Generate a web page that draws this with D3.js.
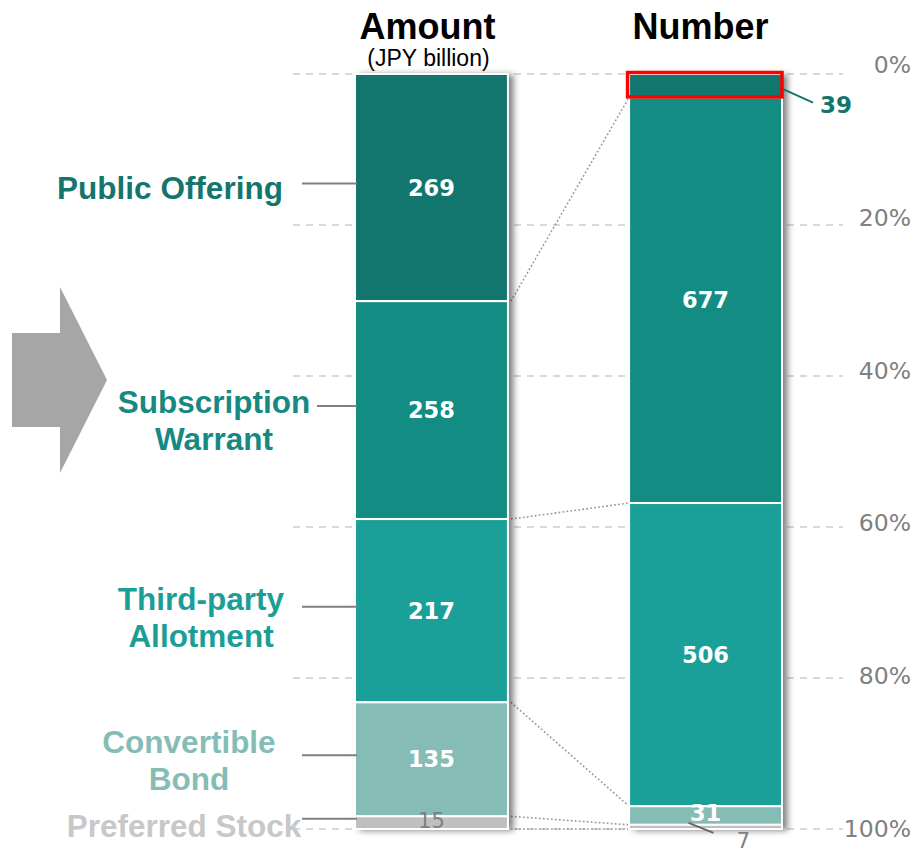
<!DOCTYPE html>
<meta charset="utf-8">
<head>
  <title>Amount vs Number</title>
  <script src="https://cdn.jsdelivr.net/npm/d3@7"></script>
  <style>
    body { margin: 0; background: #fff; }
    svg { display: block; }
    .cat { font-family: "Liberation Sans", Arial, sans-serif; font-weight: bold; font-size: 31.5px; text-anchor: middle; }
    .title { font-family: "Liberation Sans", Arial, sans-serif; font-weight: bold; font-size: 36px; text-anchor: middle; }
    .val { font-family: "DejaVu Sans", Verdana, sans-serif; font-weight: bold; font-size: 22.5px; text-anchor: middle; fill: #fff; }
    .pct { font-family: "DejaVu Sans", Verdana, sans-serif; font-size: 23.5px; fill: #808080; text-anchor: end; }
    .grid { stroke: #d9d9d9; stroke-width: 2; stroke-dasharray: 7,6; }
    .conn { stroke: #999; stroke-width: 1.6; stroke-dasharray: 1.8,2.2; }
    .lead { stroke: #808080; stroke-width: 2; }
  </style>
</head>
<body>
  <svg width="915" height="853"></svg>
  <script>
    // data
    const categories = ["Public Offering", "Subscription Warrant", "Third-party Allotment", "Convertible Bond", "Preferred Stock"];
    const amountValues = [269, 258, 217, 135, 15];   // JPY billion
    const numberValues = [39, 677, 506, 31, 7];
    const columns = ["Amount", "Number"];
    const pctTicks = [0, 0.2, 0.4, 0.6, 0.8, 1];

    const colors = ["#12766e", "#138c84", "#1aa098", "#86bcb6", "#bfbfbf"];
    const labelColors = ["#13756d", "#168a82", "#1a9e96", "#86bcb6", "#c8c8c8"];
    // left label layout: centre x, baseline offset from leader line, leader start
    const labelLayout = [
      { x: 170, dy: 15, lx: 302 },
      { x: 214, dy: 7, lx: 317 },
      { x: 201, dy: 3, lx: 302 },
      { x: 189, dy: -2, lx: 302 },
      { x: 184, dy: 18, lx: 302 }
    ];

    const svg = d3.select("svg");

    const x = d3.scaleBand().domain(columns).range([355, 782]).paddingInner(0.442).paddingOuter(0);
    const y = d3.scaleLinear().domain([0, 1]).range([74, 829]);
    const yLab = d3.scaleLinear().domain([0, 1]).range([73, 837]);

    function stackOf(vals) {
      const tot = d3.sum(vals);
      let acc = 0;
      return vals.map(function (v, i) {
        const s = { i: i, v: v, y0: acc / tot };
        acc += v;
        s.y1 = acc / tot;
        return s;
      });
    }
    const stacks = { Amount: stackOf(amountValues), Number: stackOf(numberValues) };

    const defs = svg.append("defs");
    const f = defs.append("filter").attr("id", "shadow").attr("x", "-10%").attr("y", "-5%").attr("width", "130%").attr("height", "110%");
    f.append("feDropShadow").attr("dx", 5).attr("dy", 1).attr("stdDeviation", 3)
      .attr("flood-color", "#000").attr("flood-opacity", 0.5);

    // gridlines
    svg.append("g").selectAll("line").data(pctTicks).enter().append("line")
      .attr("class", "grid")
      .attr("x1", 293).attr("x2", 843)
      .attr("y1", function (d) { return y(d); })
      .attr("y2", function (d) { return y(d); });

    svg.append("g").selectAll("text").data(pctTicks).enter().append("text")
      .attr("class", "pct")
      .attr("x", 911)
      .attr("y", function (d) { return yLab(d); })
      .text(d3.format(".0%"));

    // arrow
    svg.append("polygon")
      .attr("points", "12,333 60,333 60,287 107,380 60,473 60,427 12,427")
      .attr("fill", "#a6a6a6");

    // connectors between bars
    const conn = d3.range(1, categories.length + 1).map(function (k) {
      return { a: stacks.Amount[k - 1].y1, b: stacks.Number[k - 1].y1 };
    });
    svg.append("g").selectAll("line").data(conn).enter().append("line")
      .attr("class", "conn")
      .attr("x1", x("Amount") + x.bandwidth() + 3)
      .attr("x2", x("Number"))
      .attr("y1", function (d) { return y(d.a); })
      .attr("y2", function (d) { return y(d.b); });

    // bars
    columns.forEach(function (col) {
      const g = svg.append("g");
      g.append("rect")
        .attr("x", x(col)).attr("y", y(0))
        .attr("width", x.bandwidth()).attr("height", y(1) - y(0))
        .attr("fill", "#fff").attr("stroke", "#e6e6e6")
        .attr("filter", "url(#shadow)");
      g.selectAll("rect.seg").data(stacks[col]).enter().append("rect")
        .attr("class", "seg")
        .attr("x", x(col)).attr("y", function (d) { return y(d.y0); })
        .attr("width", x.bandwidth())
        .attr("height", function (d) { return y(d.y1) - y(d.y0); })
        .attr("fill", function (d) { return colors[d.i]; })
        .attr("stroke", "#fff").attr("stroke-width", 2);
    });

    // values inside the bars
    const cx = function (col) { return x(col) + x.bandwidth() / 2; };
    const mid = function (d) { return y((d.y0 + d.y1) / 2); };

    svg.append("g").selectAll("text").data(stacks.Amount).enter().append("text")
      .attr("class", "val")
      .attr("x", cx("Amount"))
      .attr("y", function (d) { return d.i === 4 ? mid(d) - 2 : mid(d); })
      .attr("dy", "0.36em")
      .style("font-weight", function (d) { return d.i === 4 ? "normal" : "bold"; })
      .style("font-size", function (d) { return d.i === 4 ? "21px" : null; })
      .style("fill", function (d) { return d.i === 4 ? "#7f7f7f" : null; })
      .text(function (d) { return d.v; });

    const numIn = stacks.Number.filter(function (d) { return d.i > 0 && d.i < 4; });
    svg.append("g").selectAll("text").data(numIn).enter().append("text")
      .attr("class", "val")
      .attr("x", cx("Number"))
      .attr("y", function (d) { return d.i === 3 ? mid(d) - 3 : mid(d); })
      .attr("dy", "0.36em")
      .text(function (d) { return d.v; });

    // 39 outside with leader
    const n0 = stacks.Number[0];
    const nRight = x("Number") + x.bandwidth();
    svg.append("line")
      .attr("x1", nRight).attr("y1", mid(n0) + 3)
      .attr("x2", nRight + 31).attr("y2", mid(n0) + 17)
      .attr("stroke", labelColors[0]).attr("stroke-width", 2);
    svg.append("text")
      .attr("class", "val")
      .attr("x", nRight + 38).attr("y", mid(n0) + 27)
      .style("text-anchor", "start").style("font-size", "23px")
      .style("fill", labelColors[0])
      .text(n0.v);

    // 7 outside with leader
    const n4 = stacks.Number[4];
    svg.append("line")
      .attr("x1", cx("Number") - 17).attr("y1", mid(n4) - 4)
      .attr("x2", cx("Number") + 8).attr("y2", mid(n4) + 6)
      .attr("stroke", "#666").attr("stroke-width", 2);
    svg.append("text")
      .attr("class", "val")
      .attr("x", cx("Number") + 38).attr("y", mid(n4) + 21)
      .style("font-weight", "normal").style("font-size", "21px").style("fill", "#7f7f7f")
      .text(n4.v);

    // red highlight on top segment of Number
    svg.append("rect")
      .attr("x", x("Number") - 1.5).attr("y", y(n0.y0) - 1.5)
      .attr("width", x.bandwidth() + 1.5).attr("height", y(n0.y1) - y(n0.y0) + 1)
      .attr("fill", "none").attr("stroke", "#ff0000").attr("stroke-width", 3.5);

    // left category labels with leader lines
    stacks.Amount.forEach(function (d) {
      const ly = mid(d) - 4;
      svg.append("line").attr("class", "lead")
        .attr("x1", labelLayout[d.i].lx).attr("x2", x("Amount") + 2)
        .attr("y1", ly).attr("y2", ly);
      const words = d.i === 0 || d.i === 4 ? [categories[d.i]] : categories[d.i].split(" ");
      const t = svg.append("text").attr("class", "cat")
        .attr("fill", labelColors[d.i])
        .attr("y", ly + labelLayout[d.i].dy);
      words.forEach(function (w, k) {
        t.append("tspan").attr("x", labelLayout[d.i].x).attr("dy", k === 0 ? 0 : 37).text(w);
      });
    });

    // column titles
    svg.append("text").attr("class", "title").attr("x", cx("Amount") - 4).attr("y", 39).text("Amount");
    svg.append("text").attr("class", "title").attr("x", cx("Number") - 5).attr("y", 39).text("Number");
    svg.append("text")
      .attr("x", cx("Amount") - 3).attr("y", 66)
      .attr("text-anchor", "middle")
      .style("font-family", "'Liberation Sans', Arial, sans-serif").style("font-size", "23px")
      .text("(JPY billion)");
  </script>
</body>
